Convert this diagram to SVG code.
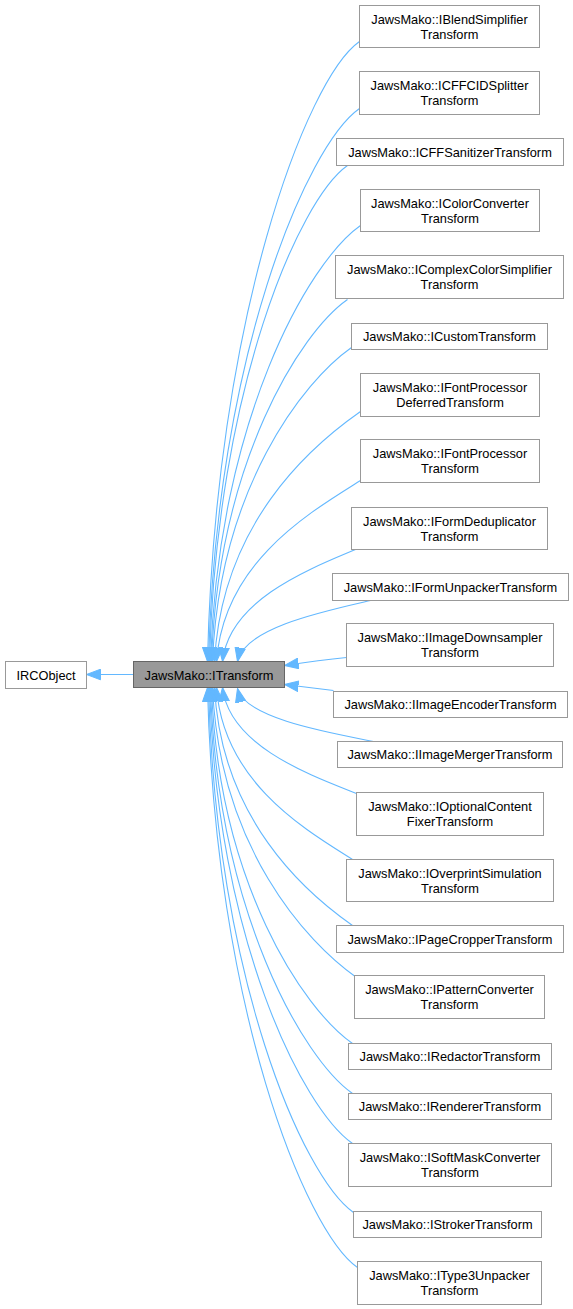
<svg xmlns="http://www.w3.org/2000/svg" width="573" height="1309" viewBox="0 0 573 1309">
<style>
.n rect{fill:#ffffff;stroke:#999999;stroke-width:1}
.cur rect{fill:#999999;stroke:#666666;stroke-width:1}
text{font-family:"Liberation Sans",Arial,sans-serif;font-size:12.8px;fill:#000000;text-anchor:middle}
.e path{fill:none;stroke:#63b8ff;stroke-width:1.1;marker-end:url(#ah)}
</style>
<defs>
<marker id="ah" markerUnits="userSpaceOnUse" markerWidth="16" markerHeight="12" viewBox="0 -6 16 12" refX="14" refY="0" orient="auto">
<path d="M0,-5.3 L14,0 L0,5.3 z" fill="#63b8ff" stroke="#63b8ff" stroke-width="1"/>
</marker>
</defs>
<rect width="573" height="1309" fill="#ffffff"/>
<g transform="translate(0.5,0.5)">
<g id="connectors" class="e">
<path d="M133,674 L86,674"/>
<path d="M359,41 C305.8,78.2 214.6,320 207,661"/>
<path d="M359,108 C306.1,145 215.6,356.8 208,661"/>
<path d="M347,165 C298.7,198.8 215.9,388.2 209,661"/>
<path d="M360,225 C307.5,261.8 217.5,421.2 210,661"/>
<path d="M347,299 C299.4,332.3 217.8,461.9 211,661"/>
<path d="M351,347 C302.35,381.1 219,488.3 212,661"/>
<path d="M360,411 C308.9,446.8 221.3,523.5 214,661"/>
<path d="M360,480 C309.6,511.8 223.2,561.4 216,661"/>
<path d="M355,549 C308.45,568.6 228.7,599.4 222,661"/>
<path d="M370,600 C323.4,610.7 243.7,627.4 237,661"/>
<path d="M346,657 C326,659 304,662 284,665"/>
<path d="M333,690 C317,688 300,686 284,684"/>
<path d="M373,741 C325.4,731.7 243.8,717.2 237,688"/>
<path d="M356,793 C309.1,774.4 228.7,745.3 222,687"/>
<path d="M352,859 C304.4,829 222.8,781.6 216,687"/>
<path d="M352,925 C303.7,891.2 220.9,817.9 214,687"/>
<path d="M356,977 C305.6,941.7 219.2,846.5 212,687"/>
<path d="M352,1043 C302.65,1008.5 218.05,882.8 211,687"/>
<path d="M352,1093 C302.3,1058.2 217.1,910.3 210,687"/>
<path d="M352,1143 C301.95,1108 216.15,937.8 209,687"/>
<path d="M353,1212 C302.25,1176.5 215.25,975.75 208,687"/>
<path d="M357,1267 C304.5,1230.25 214.5,1006 207,687"/>
</g>
<g id="IRCObject" class="n"><rect x="5" y="661" width="81" height="27"/><text x="45.5" y="679">IRCObject</text></g>
<g id="ITransform" class="cur"><rect x="133" y="661" width="151" height="26"/><text x="208.5" y="679">JawsMako::ITransform</text></g>
<g id="IBlendSimplifierTransform" class="n"><rect x="359" y="5" width="180" height="42"/><text x="449" y="23.5">JawsMako::IBlendSimplifier</text><text x="449" y="38.5">Transform</text></g>
<g id="ICFFCIDSplitterTransform" class="n"><rect x="359" y="71" width="180" height="43"/><text x="449" y="89.5">JawsMako::ICFFCIDSplitter</text><text x="449" y="104.5">Transform</text></g>
<g id="ICFFSanitizerTransform" class="n"><rect x="336" y="138" width="227" height="27"/><text x="449.5" y="156.5">JawsMako::ICFFSanitizerTransform</text></g>
<g id="IColorConverterTransform" class="n"><rect x="360" y="189" width="179" height="42"/><text x="449.5" y="207.5">JawsMako::IColorConverter</text><text x="449.5" y="222.5">Transform</text></g>
<g id="IComplexColorSimplifierTransform" class="n"><rect x="335" y="255" width="228" height="43"/><text x="449" y="273.5">JawsMako::IComplexColorSimplifier</text><text x="449" y="288.5">Transform</text></g>
<g id="ICustomTransform" class="n"><rect x="351" y="323" width="196" height="26"/><text x="449" y="340.5">JawsMako::ICustomTransform</text></g>
<g id="IFontProcessorDeferredTransform" class="n"><rect x="360" y="373" width="179" height="43"/><text x="449.5" y="391.5">JawsMako::IFontProcessor</text><text x="449.5" y="406.5">DeferredTransform</text></g>
<g id="IFontProcessorTransform" class="n"><rect x="360" y="439" width="179" height="43"/><text x="449.5" y="457.5">JawsMako::IFontProcessor</text><text x="449.5" y="472.5">Transform</text></g>
<g id="IFormDeduplicatorTransform" class="n"><rect x="351" y="507" width="196" height="42"/><text x="449" y="525.5">JawsMako::IFormDeduplicator</text><text x="449" y="540.5">Transform</text></g>
<g id="IFormUnpackerTransform" class="n"><rect x="332" y="573" width="236" height="27"/><text x="450" y="591.5">JawsMako::IFormUnpackerTransform</text></g>
<g id="IImageDownsamplerTransform" class="n"><rect x="346" y="623" width="207" height="43"/><text x="449.5" y="641.5">JawsMako::IImageDownsampler</text><text x="449.5" y="656.5">Transform</text></g>
<g id="IImageEncoderTransform" class="n"><rect x="333" y="691" width="234" height="26"/><text x="450" y="708.5">JawsMako::IImageEncoderTransform</text></g>
<g id="IImageMergerTransform" class="n"><rect x="337" y="741" width="225" height="26"/><text x="449.5" y="758.5">JawsMako::IImageMergerTransform</text></g>
<g id="IOptionalContentFixerTransform" class="n"><rect x="356" y="792" width="187" height="43"/><text x="449.5" y="810.5">JawsMako::IOptionalContent</text><text x="449.5" y="825.5">FixerTransform</text></g>
<g id="IOverprintSimulationTransform" class="n"><rect x="346" y="859" width="207" height="42"/><text x="449.5" y="877.5">JawsMako::IOverprintSimulation</text><text x="449.5" y="892.5">Transform</text></g>
<g id="IPageCropperTransform" class="n"><rect x="336" y="925" width="227" height="27"/><text x="449.5" y="943.5">JawsMako::IPageCropperTransform</text></g>
<g id="IPatternConverterTransform" class="n"><rect x="354" y="975" width="190" height="43"/><text x="449" y="993.5">JawsMako::IPatternConverter</text><text x="449" y="1008.5">Transform</text></g>
<g id="IRedactorTransform" class="n"><rect x="348" y="1043" width="203" height="26"/><text x="449.5" y="1060.5">JawsMako::IRedactorTransform</text></g>
<g id="IRendererTransform" class="n"><rect x="348" y="1093" width="203" height="26"/><text x="449.5" y="1110.5">JawsMako::IRendererTransform</text></g>
<g id="ISoftMaskConverterTransform" class="n"><rect x="348" y="1143" width="203" height="43"/><text x="449.5" y="1161.5">JawsMako::ISoftMaskConverter</text><text x="449.5" y="1176.5">Transform</text></g>
<g id="IStrokerTransform" class="n"><rect x="353" y="1211" width="188" height="26"/><text x="447" y="1228.5">JawsMako::IStrokerTransform</text></g>
<g id="IType3UnpackerTransform" class="n"><rect x="357" y="1261" width="184" height="43"/><text x="449" y="1279.5">JawsMako::IType3Unpacker</text><text x="449" y="1294.5">Transform</text></g>
</g>
</svg>
